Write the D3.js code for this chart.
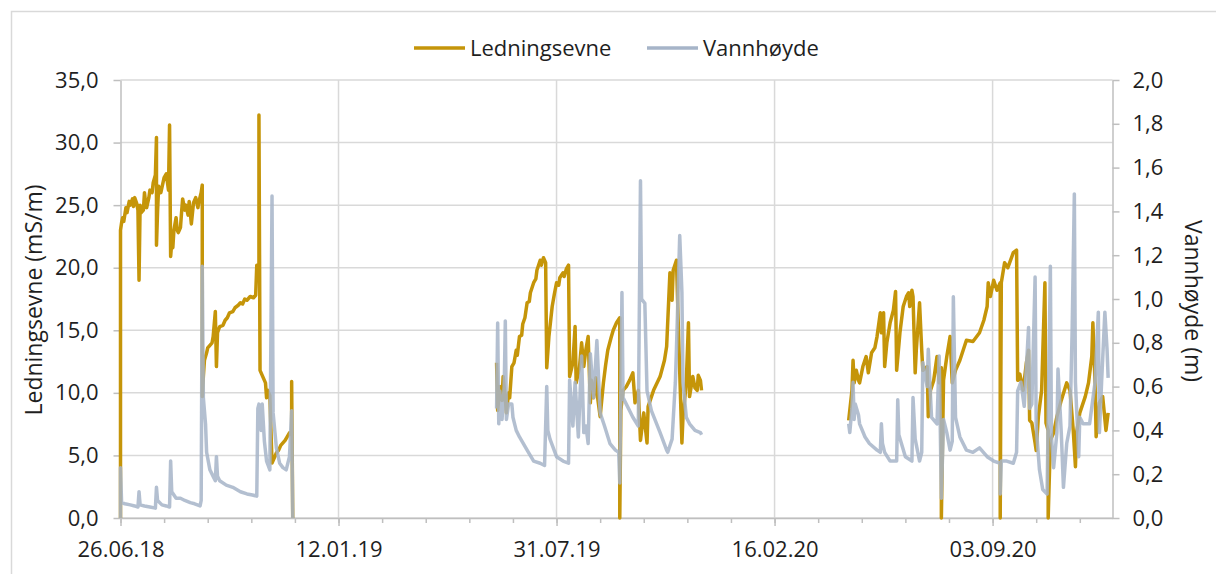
<!DOCTYPE html>
<html>
<head>
<meta charset="utf-8">
<script src="https://cdn.jsdelivr.net/npm/d3@7"></script>
<style>
  body { margin: 0; background: #fff; }
  svg { display: block; font-family: "Open Sans", sans-serif; }
</style>
</head>
<body>
<svg id="chart" width="1216" height="574"></svg>
<script>
// tick labels on the time axis
const dateLabels = ["26.06.18", "12.01.19", "31.07.19", "16.02.20", "03.09.20"];
const xStart = "2018-06-26", xEnd = "2020-12-22";
const leftTicks = [0, 5, 10, 15, 20, 25, 30, 35];
const rightTicks = [0, 0.2, 0.4, 0.6, 0.8, 1.0, 1.2, 1.4, 1.6, 1.8, 2.0];
const seriesNames = ["Ledningsevne", "Vannhøyde"];

// Ledningsevne (mS/m), null = no logger data
const ledningsevne = [
  ["2018-06-26", 0], ["2018-06-26", 23.0], ["2018-06-27", 23.6], ["2018-06-28", 24.0], ["2018-06-29", 23.7],
  ["2018-07-01", 24.8], ["2018-07-02", 24.4], ["2018-07-04", 25.3], ["2018-07-05", 25.0], ["2018-07-07", 25.5],
  ["2018-07-08", 24.9], ["2018-07-09", 25.6], ["2018-07-11", 25.1], ["2018-07-12", 24.6], ["2018-07-13", 19.0],
  ["2018-07-14", 25.0], ["2018-07-15", 24.4], ["2018-07-17", 24.6], ["2018-07-18", 26.0], ["2018-07-19", 25.2],
  ["2018-07-20", 24.8], ["2018-07-22", 25.6], ["2018-07-23", 26.2], ["2018-07-25", 26.0], ["2018-07-26", 26.8],
  ["2018-07-28", 27.4], ["2018-07-29", 30.4], ["2018-07-29", 21.8], ["2018-07-30", 24.5], ["2018-07-31", 26.5],
  ["2018-08-02", 26.0], ["2018-08-04", 26.8], ["2018-08-05", 27.2], ["2018-08-07", 27.5], ["2018-08-09", 26.2],
  ["2018-08-10", 31.4], ["2018-08-11", 20.9], ["2018-08-12", 22.0], ["2018-08-13", 21.6], ["2018-08-14", 23.0],
  ["2018-08-16", 24.0], ["2018-08-17", 23.0], ["2018-08-18", 22.8], ["2018-08-20", 23.2], ["2018-08-21", 24.4],
  ["2018-08-22", 25.5], ["2018-08-24", 24.6], ["2018-08-25", 25.0], ["2018-08-27", 24.2], ["2018-08-28", 25.3],
  ["2018-08-30", 23.5], ["2018-09-01", 25.2], ["2018-09-03", 25.6], ["2018-09-05", 24.8], ["2018-09-06", 25.3],
  ["2018-09-08", 26.0], ["2018-09-09", 26.6], ["2018-09-09", 9.7], ["2018-09-10", 11.3], ["2018-09-11", 12.6],
  ["2018-09-13", 13.2], ["2018-09-14", 13.6], ["2018-09-16", 13.8], ["2018-09-18", 14.0], ["2018-09-19", 14.5],
  ["2018-09-21", 16.5], ["2018-09-22", 12.1], ["2018-09-23", 14.8], ["2018-09-25", 15.3], ["2018-09-28", 15.4],
  ["2018-09-30", 15.8], ["2018-10-02", 16.0], ["2018-10-04", 16.4], ["2018-10-07", 16.5], ["2018-10-09", 16.8],
  ["2018-10-12", 17.0], ["2018-10-14", 17.2], ["2018-10-16", 17.1], ["2018-10-18", 17.5], ["2018-10-20", 17.4],
  ["2018-10-23", 17.7], ["2018-10-26", 17.6], ["2018-10-28", 17.8], ["2018-10-29", 20.2], ["2018-10-31", 20.0],
  ["2018-10-31", 32.2], ["2018-11-01", 11.8], ["2018-11-04", 11.2], ["2018-11-06", 10.8], ["2018-11-07", 9.6],
  ["2018-11-08", 10.2], ["2018-11-10", 9.8], ["2018-11-12", 4.4], ["2018-11-14", 4.8], ["2018-11-16", 5.2],
  ["2018-11-18", 5.4], ["2018-11-20", 5.8], ["2018-11-22", 6.0], ["2018-11-24", 6.2], ["2018-11-26", 6.5],
  ["2018-11-28", 6.8], ["2018-11-30", 6.6], ["2018-11-30", 10.9], ["2018-12-01", 0],
  ["2019-01-01", null],
  ["2019-06-06", 12.4], ["2019-06-07", 8.6], ["2019-06-09", 10.5], ["2019-06-11", 9.4], ["2019-06-12", 11.3],
  ["2019-06-14", 9.5], ["2019-06-15", 8.4], ["2019-06-17", 10.0], ["2019-06-18", 9.6], ["2019-06-20", 12.1],
  ["2019-06-22", 12.4], ["2019-06-24", 13.4], ["2019-06-25", 13.0], ["2019-06-27", 14.5], ["2019-06-29", 14.6],
  ["2019-06-30", 15.5], ["2019-07-02", 16.0], ["2019-07-04", 17.2], ["2019-07-06", 17.3], ["2019-07-07", 18.0],
  ["2019-07-10", 18.8], ["2019-07-12", 19.1], ["2019-07-13", 19.8], ["2019-07-16", 20.6], ["2019-07-17", 20.2],
  ["2019-07-19", 20.8], ["2019-07-21", 20.4], ["2019-07-22", 12.0], ["2019-07-24", 14.5], ["2019-07-27", 16.9],
  ["2019-07-29", 17.9], ["2019-07-31", 18.8], ["2019-08-02", 18.6], ["2019-08-03", 19.2], ["2019-08-06", 19.6],
  ["2019-08-07", 19.3], ["2019-08-09", 19.9], ["2019-08-11", 20.2], ["2019-08-12", 11.3], ["2019-08-15", 12.4],
  ["2019-08-17", 15.3], ["2019-08-18", 10.8], ["2019-08-21", 12.0], ["2019-08-23", 14.0], ["2019-08-25", 12.1],
  ["2019-08-27", 13.5], ["2019-08-29", 14.5], ["2019-08-31", 9.2], ["2019-09-01", 11.0], ["2019-09-03", 9.6],
  ["2019-09-05", 11.2], ["2019-09-07", 9.4], ["2019-09-09", 8.1], ["2019-09-12", 10.8], ["2019-09-14", 12.2],
  ["2019-09-16", 13.4], ["2019-09-19", 14.4], ["2019-09-21", 15.0], ["2019-09-24", 15.6], ["2019-09-27", 16.0],
  ["2019-09-27", 0], ["2019-09-28", 8.6], ["2019-09-30", 10.2], ["2019-10-03", 10.5], ["2019-10-06", 11.0],
  ["2019-10-09", 11.6], ["2019-10-11", 9.2], ["2019-10-14", 10.2], ["2019-10-16", 6.2], ["2019-10-19", 8.4],
  ["2019-10-22", 6.0], ["2019-10-23", 8.9], ["2019-10-28", 10.2], ["2019-11-03", 11.3], ["2019-11-07", 12.6],
  ["2019-11-09", 13.7], ["2019-11-12", 19.6], ["2019-11-14", 17.4], ["2019-11-15", 19.8], ["2019-11-18", 20.6],
  ["2019-11-20", 14.5], ["2019-11-23", 6.0], ["2019-11-24", 8.1], ["2019-11-27", 10.8], ["2019-11-29", 15.6],
  ["2019-11-30", 9.7], ["2019-12-03", 11.3], ["2019-12-05", 10.4], ["2019-12-07", 10.2], ["2019-12-08", 11.4],
  ["2019-12-10", 11.0], ["2019-12-11", 10.2],
  ["2020-01-01", null],
  ["2020-04-24", 7.8], ["2020-04-27", 10.2], ["2020-04-28", 12.6], ["2020-04-29", 10.8], ["2020-05-01", 11.8],
  ["2020-05-03", 11.0], ["2020-05-04", 10.8], ["2020-05-07", 12.1], ["2020-05-10", 12.9], ["2020-05-12", 11.6],
  ["2020-05-15", 13.2], ["2020-05-18", 13.6], ["2020-05-20", 14.5], ["2020-05-23", 16.4], ["2020-05-24", 14.8],
  ["2020-05-26", 16.4], ["2020-05-27", 12.1], ["2020-05-29", 14.0], ["2020-06-01", 15.6], ["2020-06-04", 16.6],
  ["2020-06-06", 18.1], ["2020-06-07", 11.8], ["2020-06-10", 14.8], ["2020-06-13", 16.9], ["2020-06-16", 17.7],
  ["2020-06-18", 18.0], ["2020-06-19", 16.9], ["2020-06-21", 18.2], ["2020-06-22", 17.7], ["2020-06-24", 11.6],
  ["2020-06-25", 13.4], ["2020-06-28", 17.2], ["2020-06-30", 13.4], ["2020-07-01", 11.8], ["2020-07-05", 12.1],
  ["2020-07-06", 8.1], ["2020-07-08", 10.2], ["2020-07-11", 11.0], ["2020-07-14", 12.9], ["2020-07-16", 10.8],
  ["2020-07-18", 12.0], ["2020-07-18", 0], ["2020-07-20", 11.0], ["2020-07-23", 12.9], ["2020-07-26", 14.5],
  ["2020-07-28", 10.8], ["2020-07-31", 11.8], ["2020-08-04", 12.6], ["2020-08-07", 13.4], ["2020-08-10", 14.2],
  ["2020-08-16", 14.1], ["2020-08-22", 14.8], ["2020-08-26", 15.8], ["2020-08-29", 16.9], ["2020-08-30", 18.8],
  ["2020-09-01", 17.7], ["2020-09-04", 19.0], ["2020-09-07", 18.2], ["2020-09-10", 18.8], ["2020-09-10", 0],
  ["2020-09-11", 18.8], ["2020-09-14", 20.4], ["2020-09-17", 20.0], ["2020-09-22", 21.2], ["2020-09-25", 21.4],
  ["2020-09-26", 11.0], ["2020-09-28", 11.5], ["2020-10-01", 10.2], ["2020-10-04", 12.4], ["2020-10-06", 13.4],
  ["2020-10-07", 7.8], ["2020-10-09", 7.6], ["2020-10-12", 6.0], ["2020-10-13", 5.4], ["2020-10-15", 8.1],
  ["2020-10-18", 10.2], ["2020-10-21", 18.8], ["2020-10-22", 7.6], ["2020-10-24", 7.0], ["2020-10-24", 0],
  ["2020-10-26", 6.2], ["2020-10-29", 6.8], ["2020-11-01", 8.1], ["2020-11-05", 9.4], ["2020-11-10", 10.8],
  ["2020-11-13", 10.2], ["2020-11-16", 7.0], ["2020-11-18", 4.1], ["2020-11-19", 6.8], ["2020-11-22", 8.4],
  ["2020-11-27", 9.7], ["2020-11-30", 10.8], ["2020-12-03", 12.9], ["2020-12-04", 15.6], ["2020-12-06", 10.8],
  ["2020-12-07", 6.5], ["2020-12-10", 9.2], ["2020-12-13", 9.7], ["2020-12-16", 7.0], ["2020-12-18", 8.4]
];

// Vannhøyde (m)
const vannhoyde = [
  ["2018-06-26", 0], ["2018-06-26", 0.23], ["2018-06-27", 0.07], ["2018-06-30", 0.065], ["2018-07-05", 0.06],
  ["2018-07-09", 0.055], ["2018-07-12", 0.05], ["2018-07-13", 0.12], ["2018-07-14", 0.06], ["2018-07-18", 0.055],
  ["2018-07-23", 0.05], ["2018-07-28", 0.045], ["2018-07-29", 0.14], ["2018-07-30", 0.08], ["2018-08-03", 0.06],
  ["2018-08-07", 0.055], ["2018-08-10", 0.05], ["2018-08-11", 0.26], ["2018-08-12", 0.12], ["2018-08-16", 0.09],
  ["2018-08-20", 0.09], ["2018-08-24", 0.08], ["2018-08-29", 0.07], ["2018-09-02", 0.065], ["2018-09-07", 0.055],
  ["2018-09-08", 0.08], ["2018-09-09", 1.15], ["2018-09-10", 0.55], ["2018-09-12", 0.43], ["2018-09-13", 0.30],
  ["2018-09-16", 0.22], ["2018-09-19", 0.19], ["2018-09-21", 0.17], ["2018-09-22", 0.28], ["2018-09-23", 0.19],
  ["2018-09-25", 0.17], ["2018-10-01", 0.15], ["2018-10-07", 0.14], ["2018-10-14", 0.12], ["2018-10-20", 0.11],
  ["2018-10-25", 0.105], ["2018-10-29", 0.10], ["2018-10-30", 0.50], ["2018-10-31", 0.52], ["2018-11-02", 0.40],
  ["2018-11-03", 0.52], ["2018-11-05", 0.35], ["2018-11-07", 0.26], ["2018-11-10", 0.22], ["2018-11-12", 1.47],
  ["2018-11-13", 0.48], ["2018-11-16", 0.32], ["2018-11-19", 0.25], ["2018-11-22", 0.23], ["2018-11-25", 0.22],
  ["2018-11-28", 0.28], ["2018-11-30", 0.49], ["2018-12-01", 0],
  ["2019-01-01", null],
  ["2019-06-06", 0.50], ["2019-06-07", 0.89], ["2019-06-08", 0.43], ["2019-06-09", 0.58], ["2019-06-11", 0.45],
  ["2019-06-13", 0.60], ["2019-06-14", 0.90], ["2019-06-15", 0.45], ["2019-06-17", 0.52], ["2019-06-20", 0.52],
  ["2019-06-21", 0.46], ["2019-06-24", 0.40], ["2019-06-27", 0.37], ["2019-07-04", 0.31], ["2019-07-10", 0.26],
  ["2019-07-16", 0.25], ["2019-07-20", 0.24], ["2019-07-22", 0.60], ["2019-07-23", 0.40], ["2019-07-25", 0.36],
  ["2019-07-31", 0.28], ["2019-08-06", 0.26], ["2019-08-11", 0.25], ["2019-08-12", 0.63], ["2019-08-15", 0.42],
  ["2019-08-17", 0.62], ["2019-08-20", 0.37], ["2019-08-23", 0.74], ["2019-08-25", 0.39], ["2019-08-27", 0.42],
  ["2019-08-29", 0.34], ["2019-08-31", 0.75], ["2019-09-03", 0.55], ["2019-09-06", 0.81], ["2019-09-09", 0.48],
  ["2019-09-13", 0.42], ["2019-09-18", 0.34], ["2019-09-23", 0.31], ["2019-09-26", 0.30], ["2019-09-27", 0.16],
  ["2019-09-29", 1.03], ["2019-09-30", 0.55], ["2019-10-03", 0.52], ["2019-10-09", 0.46], ["2019-10-14", 0.42],
  ["2019-10-16", 1.54], ["2019-10-17", 1.00], ["2019-10-20", 0.98], ["2019-10-22", 0.58], ["2019-10-26", 0.49],
  ["2019-11-03", 0.39], ["2019-11-09", 0.31], ["2019-11-10", 0.30], ["2019-11-14", 0.36], ["2019-11-17", 0.62],
  ["2019-11-18", 0.77], ["2019-11-21", 1.29], ["2019-11-23", 1.03], ["2019-11-24", 0.62], ["2019-11-27", 0.46],
  ["2019-11-30", 0.43], ["2019-12-05", 0.40], ["2019-12-10", 0.39], ["2019-12-11", 0.38],
  ["2020-01-01", null],
  ["2020-04-24", 0.43], ["2020-04-25", 0.39], ["2020-04-27", 0.50], ["2020-04-28", 0.62], ["2020-04-29", 0.45],
  ["2020-04-30", 0.52], ["2020-05-03", 0.47], ["2020-05-04", 0.43], ["2020-05-09", 0.37], ["2020-05-13", 0.34],
  ["2020-05-20", 0.31], ["2020-05-23", 0.30], ["2020-05-24", 0.43], ["2020-05-25", 0.34], ["2020-05-27", 0.30],
  ["2020-06-01", 0.26], ["2020-06-07", 0.26], ["2020-06-08", 0.54], ["2020-06-09", 0.38], ["2020-06-15", 0.28],
  ["2020-06-21", 0.26], ["2020-06-22", 0.55], ["2020-06-24", 0.36], ["2020-06-28", 0.26], ["2020-06-30", 0.30],
  ["2020-07-01", 0.71], ["2020-07-05", 0.60], ["2020-07-06", 0.77], ["2020-07-09", 0.46], ["2020-07-14", 0.43],
  ["2020-07-16", 0.74], ["2020-07-18", 0.09], ["2020-07-20", 0.45], ["2020-07-23", 0.39], ["2020-07-26", 0.31],
  ["2020-07-28", 0.35], ["2020-07-29", 1.01], ["2020-07-31", 0.46], ["2020-08-04", 0.37], ["2020-08-10", 0.31],
  ["2020-08-16", 0.30], ["2020-08-22", 0.32], ["2020-08-29", 0.28], ["2020-09-04", 0.26], ["2020-09-10", 0.25],
  ["2020-09-10", 0.11], ["2020-09-11", 0.26], ["2020-09-16", 0.26], ["2020-09-22", 0.25], ["2020-09-25", 0.30],
  ["2020-09-26", 0.58], ["2020-09-29", 0.62], ["2020-10-02", 0.51], ["2020-10-06", 0.87], ["2020-10-07", 0.50],
  ["2020-10-09", 0.52], ["2020-10-12", 1.10], ["2020-10-13", 0.42], ["2020-10-16", 0.22], ["2020-10-19", 0.13],
  ["2020-10-23", 0.11], ["2020-10-26", 1.15], ["2020-10-27", 0.37], ["2020-10-29", 0.23], ["2020-11-01", 0.39],
  ["2020-11-02", 0.68], ["2020-11-05", 0.39], ["2020-11-07", 0.14], ["2020-11-10", 0.34], ["2020-11-13", 0.42],
  ["2020-11-15", 0.86], ["2020-11-17", 1.48], ["2020-11-18", 0.62], ["2020-11-21", 0.28], ["2020-11-22", 0.46],
  ["2020-11-25", 0.43], ["2020-12-01", 0.43], ["2020-12-06", 0.62], ["2020-12-09", 0.94], ["2020-12-10", 0.39],
  ["2020-12-12", 0.62], ["2020-12-15", 0.94], ["2020-12-17", 0.77], ["2020-12-18", 0.64]
];

const colors = ["#C59509", "#A6B4C8"];

const svg = d3.select("#chart");
const margin = { left: 120.5, right: 1112.5, top: 80, bottom: 518 };
const parseIso = d3.timeParse("%Y-%m-%d");
const parseLabel = d3.timeParse("%d.%m.%y");
const no = d3.formatLocale({ decimal: ",", thousands: " ", grouping: [3], currency: ["", " kr"] });
const fmt1 = no.format(".1f");

const x = d3.scaleTime()
    .domain([parseIso(xStart), parseIso(xEnd)])
    .range([margin.left, margin.right]);
const yL = d3.scaleLinear().domain([0, 35]).range([margin.bottom, margin.top]);
const yR = d3.scaleLinear().domain([0, 2]).range([margin.bottom, margin.top]);

// outer chart border
svg.append("rect")
    .attr("x", 11.5).attr("y", 11.5)
    .attr("width", 1230).attr("height", 600)
    .attr("fill", "#fff")
    .attr("stroke", "#d9d9d9")
    .attr("stroke-width", 1.5);

const majorDates = dateLabels.map(parseLabel);
const minorDates = d3.range(0, 23).map(i => d3.timeDay.offset(majorDates[0], i * 40));

// gridlines
svg.append("g").selectAll("line")
    .data(leftTicks)
    .join("line")
    .attr("x1", margin.left).attr("x2", margin.right)
    .attr("y1", d => yL(d)).attr("y2", d => yL(d))
    .attr("stroke", "#d9d9d9").attr("stroke-width", 1.5);

svg.append("g").selectAll("line")
    .data(majorDates.slice(1))
    .join("line")
    .attr("x1", d => x(d)).attr("x2", d => x(d))
    .attr("y1", margin.top).attr("y2", margin.bottom)
    .attr("stroke", "#d9d9d9").attr("stroke-width", 1.5);

// axes
function styleAxis(g) {
    g.select(".domain").attr("stroke", "#bfbfbf").attr("stroke-width", 1.5);
    g.selectAll(".tick line").attr("stroke", "#bfbfbf").attr("stroke-width", 1.5);
    g.selectAll("text").attr("fill", "#1f1f1f").style("font-size", "22px").style("font-family", "Open Sans");
}

svg.append("g")
    .attr("transform", `translate(${margin.left},0)`)
    .call(d3.axisLeft(yL).tickValues(leftTicks).tickFormat(fmt1).tickSize(7).tickPadding(15).tickSizeOuter(0))
    .call(styleAxis);

svg.append("g")
    .attr("transform", `translate(${margin.right},0)`)
    .call(d3.axisRight(yR).tickValues(rightTicks).tickFormat(fmt1).tickSize(7).tickPadding(13).tickSizeOuter(0))
    .call(styleAxis);

svg.append("g")
    .attr("transform", `translate(0,${margin.bottom})`)
    .call(d3.axisBottom(x).tickValues(minorDates).tickFormat("").tickSize(5).tickSizeOuter(0))
    .call(styleAxis);

svg.append("g")
    .attr("transform", `translate(0,${margin.bottom})`)
    .call(d3.axisBottom(x).tickValues(majorDates).tickFormat((d, i) => dateLabels[i]).tickSize(8).tickPadding(15).tickSizeOuter(0))
    .call(styleAxis)
    .call(g => g.select(".domain").remove());

// axis titles
svg.append("text")
    .attr("transform", "translate(33,300) rotate(-90)")
    .attr("text-anchor", "middle").attr("dominant-baseline", "central")
    .attr("fill", "#1f1f1f").style("font-size", "23px")
    .text("Ledningsevne (mS/m)");

svg.append("text")
    .attr("transform", "translate(1194,301) rotate(90)")
    .attr("text-anchor", "middle").attr("dominant-baseline", "central")
    .attr("fill", "#1f1f1f").style("font-size", "23px")
    .text("Vannhøyde (m)");

// series
const lineL = d3.line()
    .defined(d => d[1] !== null)
    .x(d => x(parseIso(d[0])))
    .y(d => yL(d[1]));
const lineR = d3.line()
    .defined(d => d[1] !== null)
    .x(d => x(parseIso(d[0])))
    .y(d => yR(d[1]));

svg.append("path")
    .datum(ledningsevne)
    .attr("d", lineL)
    .attr("fill", "none")
    .attr("stroke", colors[0])
    .attr("stroke-width", 3.5)
    .attr("stroke-linejoin", "round");

svg.append("path")
    .datum(vannhoyde)
    .attr("d", lineR)
    .attr("fill", "none")
    .attr("stroke", colors[1])
    .attr("stroke-width", 3.5)
    .attr("stroke-opacity", 0.85)
    .attr("stroke-linejoin", "round");

// legend
const legendX = [414, 647];
const legend = svg.append("g");
seriesNames.forEach(function(name, i) {
    legend.append("line")
        .attr("x1", legendX[i]).attr("x2", legendX[i] + 51)
        .attr("y1", 48).attr("y2", 48)
        .attr("stroke", colors[i]).attr("stroke-width", 3.5);
    legend.append("text")
        .attr("x", legendX[i] + 56).attr("y", 56)
        .attr("fill", "#1f1f1f").style("font-size", "22px")
        .text(name);
});
</script>
</body>
</html>
